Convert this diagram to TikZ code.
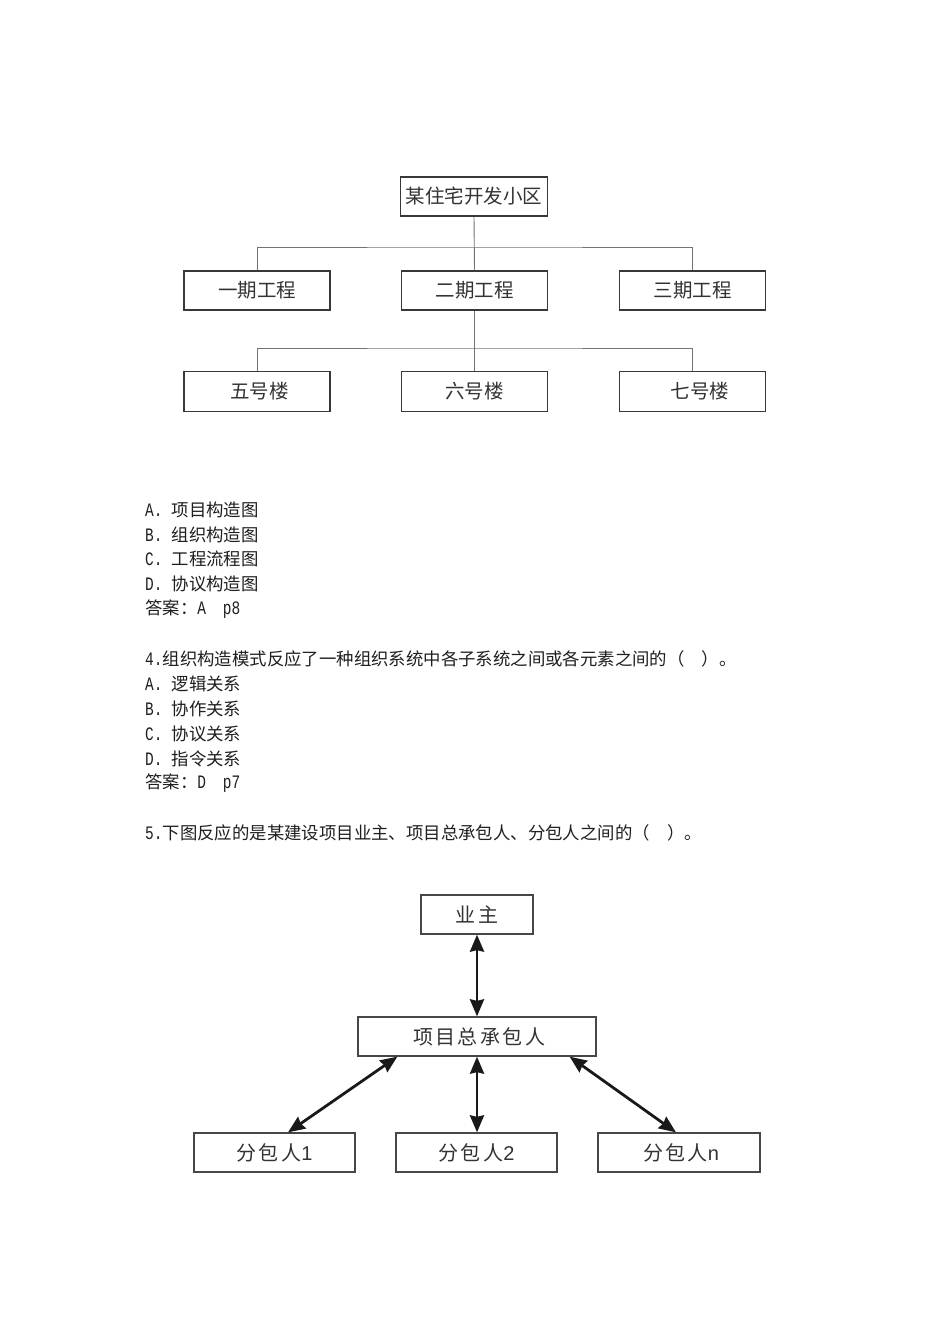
\documentclass[tikz,border=0pt]{standalone}
\usepackage{fontspec}
\setmainfont{Noto Sans CJK SC}
\newfontfamily\latf{Liberation Mono}
\newfontfamily\sansl{Liberation Sans}
\newfontfamily\widecjk[LetterSpace=12]{Noto Sans CJK SC}
\usetikzlibrary{arrows.meta,calc}
\newcommand\lat[2]{\makebox[#1][l]{\scalebox{0.76}[1]{\latf\fontsize{19}{19}\selectfont #2}}}
\tikzset{
  treebox/.style={draw=black!78, line width=1.5pt, minimum width=146pt, minimum height=39pt, inner sep=0pt, text=black!80, font=\fontsize{19.5}{19.5}\selectfont},
  treeline/.style={draw=black!55, line width=0.9pt},
  body/.style={anchor=west, inner sep=0pt, text=black!88, font=\fontsize{17.4}{17.4}\selectfont},
  orgbox/.style={draw=black!72, line width=1.3pt, minimum height=39pt, inner sep=0pt, text=black!80, font=\widecjk\fontsize{20}{20}\selectfont},
  dbl/.style={line width=2.8pt, draw=black!90, {Stealth[length=17pt,width=14pt,inset=1.5pt]}-{Stealth[length=17pt,width=14pt,inset=1.5pt]}}
}
\begin{document}
\begin{tikzpicture}[x=1pt,y=-1pt]
\fill[white] (0,0) rectangle (950,1344);
\useasboundingbox (0,0) rectangle (950,1344);

% ---- tree diagram ----
\node[treebox, minimum width=147pt] (top) at (474,196.5) {某住宅开发小区};
\node[treebox] (p1) at (257,290.5) {一期工程};
\node[treebox] (p2) at (474.5,290.5) {二期工程};
\node[treebox] (p3) at (692.5,290.5) {三期工程};
\node[treebox, minimum height=40pt] (b5) at (257,391.5) {\hspace*{5pt}五号楼};
\node[treebox, minimum height=40pt] (b6) at (474.5,391.5) {六号楼};
\node[treebox, minimum height=40pt] (b7) at (692.5,391.5) {\hspace*{15pt}\raisebox{-3pt}{七号楼}};
\coordinate (bus1) at (474.5,247);
\coordinate (bus2) at (474.5,348);
\draw[treeline] (top.south) -- (p2.north);
\draw[treeline] (p1.north) |- (bus1) -| (p3.north);
\draw[treeline] (p2.south) -- (b6.north);
\draw[treeline] (b5.north) |- (bus2) -| (b7.north);

% ---- text ----
\node[body] (t1) at (145,509.5) {\lat{26.5pt}{A.}项目构造图};
\node[body] (t2) at (145,534.4) {\lat{26.5pt}{B.}组织构造图};
\node[body] (t3) at (145,559.3) {\lat{26.5pt}{C.}工程流程图};
\node[body] (t4) at (145,584.2) {\lat{26.5pt}{D.}协议构造图};
\node[body] (t5) at (145,609) {答案：\lat{25.5pt}{A}\lat{17pt}{p8}};
\node[body] (t6) at (145,658.8) {\lat{17.4pt}{4.}组织构造模式反应了一种组织系统中各子系统之间或各元素之间的（\hspace{17.4pt}）。};
\node[body] (t7) at (145,683.7) {\lat{26.5pt}{A.}逻辑关系};
\node[body] (t8) at (145,708.6) {\lat{26.5pt}{B.}协作关系};
\node[body] (t9) at (145,733.5) {\lat{26.5pt}{C.}协议关系};
\node[body] (t10) at (145,758.4) {\lat{26.5pt}{D.}指令关系};
\node[body] (t11) at (145,783.3) {答案：\lat{25.5pt}{D}\lat{17pt}{p7}};
\node[body] (t12) at (145,833.1) {\lat{17.4pt}{5.}下图反应的是某建设项目业主、项目总承包人、分包人之间的（\hspace{17.4pt}）。};

% ---- organisation diagram ----
\node[orgbox, minimum width=112pt] (owner) at (477,914.5) {业主};
\node[orgbox, minimum width=238pt] (gc) at (477,1036.5) {\hspace*{4pt}项目总承包人};
\node[orgbox, minimum width=161pt] (s1) at (274.5,1152.5) {分包人{\sansl 1}};
\node[orgbox, minimum width=161pt] (s2) at (476.5,1152.5) {分包人{\sansl 2}};
\node[orgbox, minimum width=162pt] (sn) at (679,1152.5) {\hspace*{4pt}分包人{\sansl n}};
\draw[dbl] (owner.south) -- (gc.north);
\draw[dbl] (gc.south) -- (gc.south |- s2.north);
\draw[dbl] ($(gc.south west)+(40,0)$) -- ($(s1.north)+(13.5,0)$);
\draw[dbl] ($(gc.south east)+(-27,0)$) -- ($(sn.north)+(-3,0)$);
\end{tikzpicture}
\end{document}
